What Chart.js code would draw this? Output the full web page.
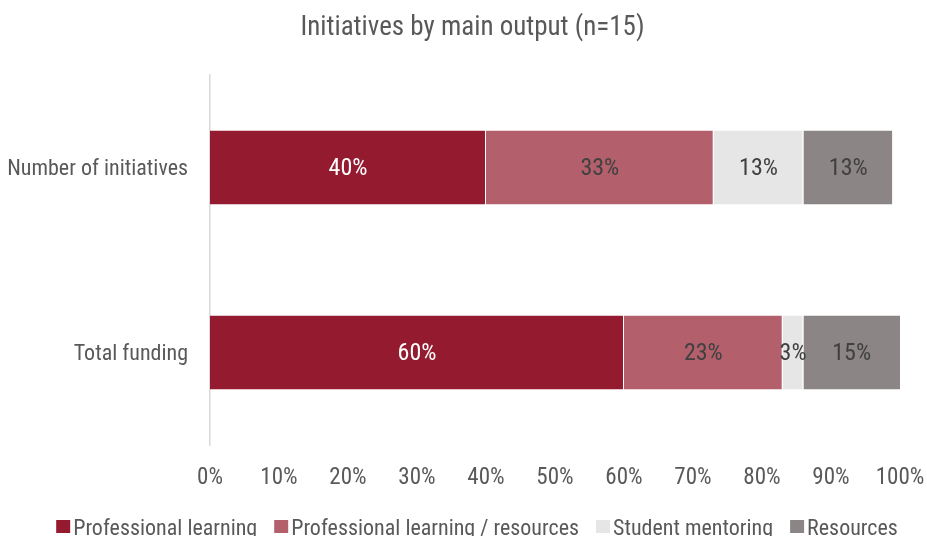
<!DOCTYPE html>
<html>
<head>
<meta charset="utf-8">
<script src="https://cdn.jsdelivr.net/npm/chart.js@4.4.0/dist/chart.umd.min.js"></script>
<style>
  html, body { margin: 0; padding: 0; background: #fff; overflow: hidden; }
  #wrap { width: 927px; height: 536px; position: relative; }
</style>
</head>
<body>
<div id="wrap"><canvas id="c"></canvas></div>
<script>
const categories = ["Number of initiatives", "Total funding"];
const seriesNames = ["Professional learning", "Professional learning / resources", "Student mentoring", "Resources"];
const professionalLearning = [40, 60];
const professionalLearningResources = [33, 23];
const studentMentoring = [13, 3];
const resources = [13, 15];
const tickValues = [0, 10, 20, 30, 40, 50, 60, 70, 80, 90, 100];
const titleText = "Initiatives by main output (n=15)";

const colors = ["#931A2F", "#B3606C", "#E6E6E6", "#8C8585"];
const labelColors = ["#FFFFFF", "#404040", "#404040", "#404040"];
const FONT = "'Liberation Sans Narrow', 'Arial Narrow', 'Roboto Condensed', 'Liberation Sans', sans-serif";

const seriesData = [professionalLearning, professionalLearningResources, studentMentoring, resources];

const labelPlugin = {
  id: 'segLabels',
  afterDatasetsDraw(chart) {
    const ctx = chart.ctx;
    const area = chart.chartArea;
    ctx.save();
    ctx.font = "24px " + FONT;
    ctx.textAlign = 'center';
    ctx.textBaseline = 'middle';
    chart.data.datasets.forEach((ds, i) => {
      const meta = chart.getDatasetMeta(i);
      meta.data.forEach((el, j) => {
        const props = el.getProps(['x', 'y', 'base'], true);
        const l = Math.max(Math.min(props.x, props.base), area.left);
        const r = Math.min(Math.max(props.x, props.base), area.right);
        ctx.fillStyle = labelColors[i];
        ctx.fillText(ds.data[j] + '%', (l + r) / 2, props.y + 1);
      });
    });
    ctx.restore();
  }
};

// Title and legend drawn from the chart's own data (positions like the original)
const titleLegendPlugin = {
  id: 'titleLegend',
  afterDraw(chart) {
    const ctx = chart.ctx;
    ctx.save();
    // title
    ctx.font = "27px " + FONT;
    ctx.fillStyle = '#595959';
    ctx.textAlign = 'center';
    ctx.textBaseline = 'middle';
    ctx.fillText(titleText, 472.5, 28);
    // legend
    ctx.font = "22px " + FONT;
    ctx.textBaseline = 'alphabetic';
    ctx.textAlign = 'left';
    const boxW = 14, boxH = 13, gapText = 3, gapItem = 17;
    const items = chart.data.datasets.map(ds => ({ text: ds.label, color: ds.backgroundColor, w: ctx.measureText(ds.label).width }));
    const total = items.reduce((s, it) => s + boxW + gapText + it.w, 0) + gapItem * (items.length - 1);
    let x = 477 - total / 2;
    const baseY = 535, boxTop = 520;
    items.forEach(it => {
      ctx.fillStyle = it.color;
      ctx.fillRect(x, boxTop, boxW, boxH);
      ctx.fillStyle = '#595959';
      ctx.fillText(it.text, x + boxW + gapText, baseY);
      x += boxW + gapText + it.w + gapItem;
    });
    ctx.restore();
  }
};

new Chart(document.getElementById('c'), {
  type: 'bar',
  data: {
    labels: categories,
    datasets: seriesData.map((d, i) => ({
      label: seriesNames[i],
      data: d,
      backgroundColor: colors[i],
      borderColor: '#FFFFFF',
      borderWidth: { left: 0, right: 1, top: 0, bottom: 0 },
      borderSkipped: false,
      categoryPercentage: 1,
      barPercentage: 0.4
    }))
  },
  options: {
    indexAxis: 'y',
    responsive: true,
    maintainAspectRatio: false,
    animation: false,
    layout: { padding: { left: 0, right: 0, top: 75, bottom: 0 } },
    scales: {
      x: {
        stacked: true,
        min: 0,
        max: 100,
        afterBuildTicks(scale) { scale.ticks = tickValues.map(v => ({ value: v })); },
        afterFit(scale) { scale.height = 91; scale.paddingRight = 27; },
        grid: { display: false },
        border: { display: false },
        ticks: {
          padding: 11,
          color: '#595959',
          font: { family: FONT, size: 23 },
          callback: v => v + '%',
          maxRotation: 0,
          autoSkip: false
        }
      },
      y: {
        stacked: true,
        afterFit(scale) { scale.width = 210; },
        grid: { display: false },
        border: { display: true, color: '#D9D9D9', width: 1.5 },
        ticks: {
          padding: 14,
          labelOffset: 2,
          color: '#595959',
          font: { family: FONT, size: 22 }
        }
      }
    },
    plugins: {
      title: { display: false },
      legend: { display: false },
      tooltip: { enabled: false }
    }
  },
  plugins: [labelPlugin, titleLegendPlugin]
});
</script>
</body>
</html>
